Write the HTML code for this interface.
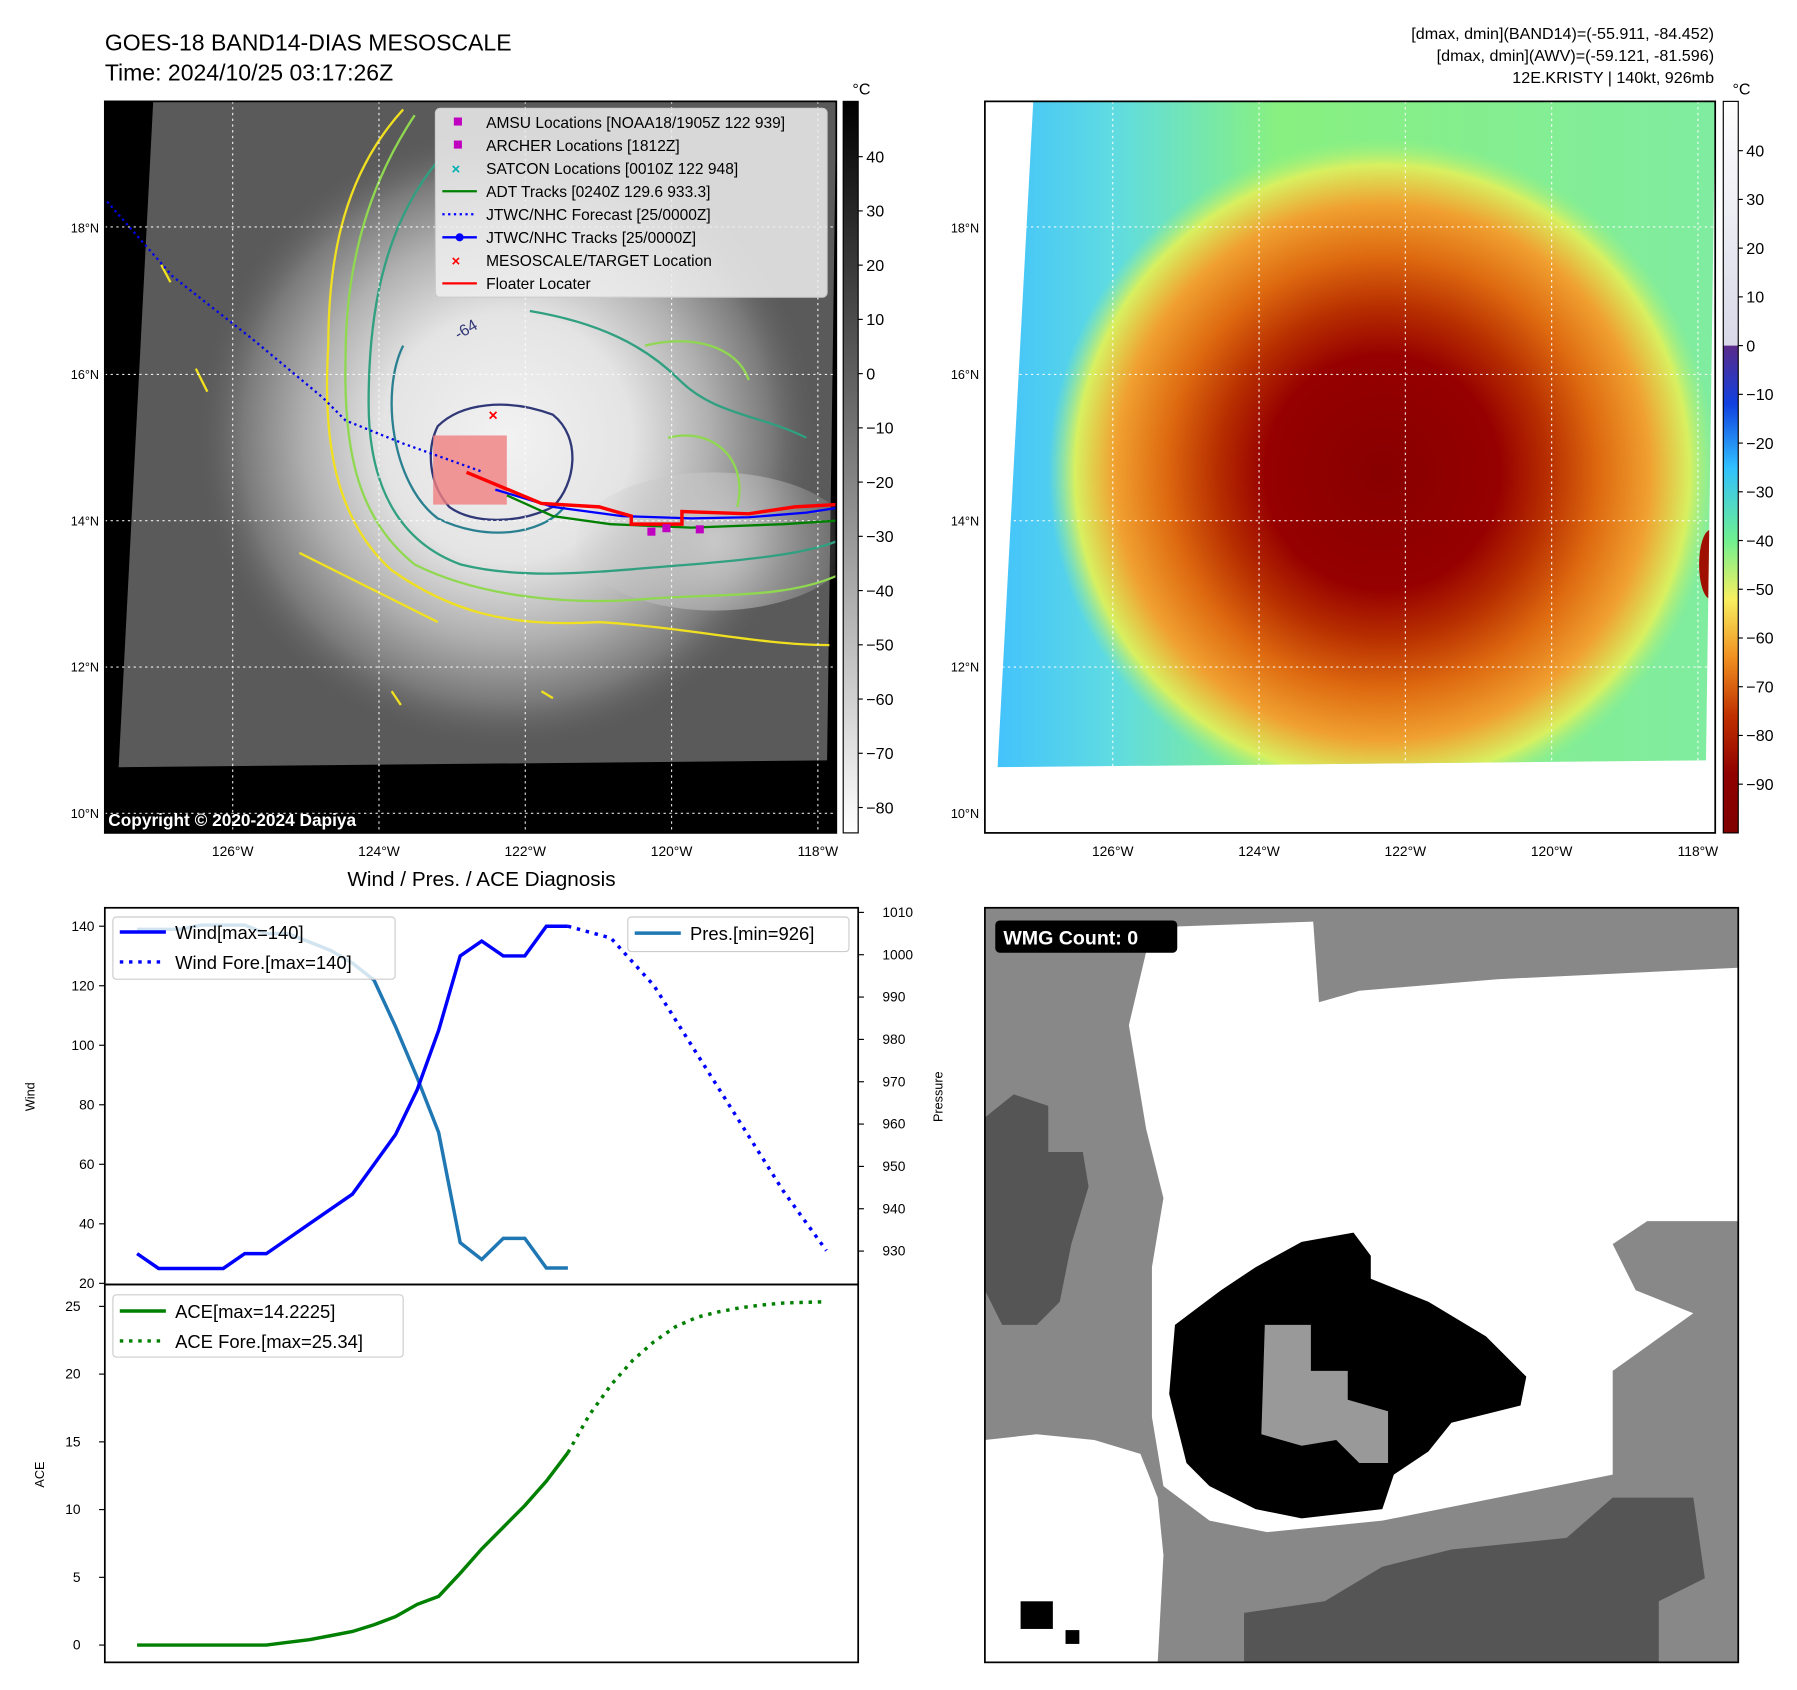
<!DOCTYPE html>
<html><head><meta charset="utf-8"><style>
html,body{margin:0;padding:0;background:#fff;}
svg{display:block;font-family:"Liberation Sans","DejaVu Sans",sans-serif;}
</style></head><body>
<svg id="root" width="1797" height="1690" viewBox="0 0 1560 1467" preserveAspectRatio="none" xmlns="http://www.w3.org/2000/svg">
<defs>
<radialGradient id="irBlob" cx="440" cy="380" r="270" gradientUnits="userSpaceOnUse">
<stop offset="0" stop-color="#f2f2f2"/><stop offset="0.4" stop-color="#e4e4e4"/><stop offset="0.65" stop-color="#b0b0b0"/><stop offset="0.85" stop-color="#7a7a7a"/><stop offset="1" stop-color="#5e5e5e" stop-opacity="0"/></radialGradient>
<radialGradient id="irBand" cx="620" cy="470" r="130" gradientUnits="userSpaceOnUse">
<stop offset="0" stop-color="#c8c8c8"/><stop offset="1" stop-color="#c8c8c8" stop-opacity="0"/></radialGradient>
<linearGradient id="colBase" x1="0" y1="0" x2="1" y2="0">
<stop offset="0" stop-color="#40c0ff"/><stop offset="0.18" stop-color="#60dce0"/><stop offset="0.4" stop-color="#88f080"/><stop offset="1" stop-color="#80eca0"/></linearGradient>
<radialGradient id="colBlob" cx="1200" cy="410" r="290" gradientUnits="userSpaceOnUse">
<stop offset="0" stop-color="#880000"/><stop offset="0.35" stop-color="#960000"/><stop offset="0.5" stop-color="#b83000"/><stop offset="0.65" stop-color="#de6a10"/><stop offset="0.8" stop-color="#f0a030"/><stop offset="0.92" stop-color="#d8f060"/><stop offset="1" stop-color="#a0f080" stop-opacity="0"/></radialGradient>
<linearGradient id="cbGray" x1="0" y1="0" x2="0" y2="1"><stop offset="0" stop-color="#000"/><stop offset="1" stop-color="#fff"/></linearGradient>
<linearGradient id="cbCol" x1="0" y1="0" x2="0" y2="1">
<stop offset="0" stop-color="#5a2a8a"/><stop offset="0.12" stop-color="#1040e0"/><stop offset="0.25" stop-color="#30c0ff"/><stop offset="0.4" stop-color="#70f090"/><stop offset="0.52" stop-color="#f8f060"/><stop offset="0.64" stop-color="#f09020"/><stop offset="0.76" stop-color="#c03000"/><stop offset="0.88" stop-color="#900000"/><stop offset="1" stop-color="#800000"/></linearGradient>
<linearGradient id="cbWhite" x1="0" y1="0" x2="0" y2="1"><stop offset="0" stop-color="#fff"/><stop offset="1" stop-color="#d8d8e8"/></linearGradient>
<clipPath id="clipL"><rect x="91" y="88" width="635" height="635"/></clipPath>
<clipPath id="clipR"><rect x="855" y="88" width="634" height="635"/></clipPath>
<clipPath id="clipW"><rect x="855" y="788" width="654" height="655"/></clipPath>
</defs>

<text x="91" y="44" font-size="20">GOES-18 BAND14-DIAS MESOSCALE</text>
<text x="91" y="70" font-size="20">Time: 2024/10/25 03:17:26Z</text>
<g font-size="14" text-anchor="end">
<text x="1488" y="34">[dmax, dmin](BAND14)=(-55.911, -84.452)</text>
<text x="1488" y="53">[dmax, dmin](AWV)=(-59.121, -81.596)</text>
<text x="1488" y="72">12E.KRISTY | 140kt, 926mb</text>
</g>

<g clip-path="url(#clipL)">
<rect x="91" y="88" width="635" height="635" fill="#000"/>
<polygon points="133,88 726,88 718,660 103,666" fill="#5a5a5a"/>
<polygon points="133,88 726,88 718,660 103,666" fill="url(#irBlob)"/>
<ellipse cx="620" cy="470" rx="120" ry="60" fill="url(#irBand)"/>
<g fill="none" stroke-width="2">
<path d="M350,95 C300,150 285,220 285,300 C280,380 290,450 340,495 C390,530 440,545 520,540 C600,545 660,560 720,560" stroke="#f0e020"/>
<path d="M360,100 C320,160 300,230 300,310 C298,390 310,450 360,490 C420,520 500,525 560,520 C620,515 680,520 726,500" stroke="#8fd850"/>
<path d="M380,140 C330,200 320,280 320,350 C320,420 345,470 400,490 C460,505 530,495 600,490 C660,485 700,480 726,470" stroke="#30a080"/>
<path d="M460,270 C520,280 560,300 590,330 C620,360 660,360 700,380" stroke="#30a080"/>
<path d="M350,300 C330,340 340,420 380,450 C420,470 470,465 490,440" stroke="#2a8090"/>
<path d="M380,370 C400,350 440,345 480,360 C505,380 500,420 480,440 C450,455 410,455 390,440 C372,420 370,390 380,370 Z" stroke="#303878"/>
<path d="M560,300 C600,290 640,300 650,330 M580,380 C620,370 650,400 640,440" stroke="#8fd850"/>
<path d="M170,320 l10,20 M140,230 l8,15 M260,480 C300,500 340,520 380,540 M340,600 l8,12 M470,600 l10,6" stroke="#f0e020"/>
</g>
<text x="398" y="295" font-size="14" fill="#333878" transform="rotate(-30 398 295)">-64</text>
<g stroke="#fff" stroke-width="1" stroke-dasharray="2,3" opacity="0.9">
<line x1="202" y1="88" x2="202" y2="723"/><line x1="329" y1="88" x2="329" y2="723"/><line x1="456" y1="88" x2="456" y2="723"/><line x1="583" y1="88" x2="583" y2="723"/><line x1="710" y1="88" x2="710" y2="723"/>
<line x1="91" y1="197" x2="726" y2="197"/><line x1="91" y1="325" x2="726" y2="325"/><line x1="91" y1="452" x2="726" y2="452"/><line x1="91" y1="579" x2="726" y2="579"/><line x1="91" y1="706" x2="726" y2="706"/>
</g>
<rect x="376" y="378" width="64" height="60" fill="#f08080" opacity="0.8"/>
<path d="M93,175 L150,240 L220,295 L280,345 L300,365 L350,385 L420,410" fill="none" stroke="#0000ee" stroke-width="2" stroke-dasharray="2,3"/>
<path d="M440,430 L480,448 L530,455 L600,458 L680,455 L726,452" fill="none" stroke="#008000" stroke-width="2"/>
<path d="M430,425 L480,440 L540,448 L600,450 L650,449 L700,445 L726,441" fill="none" stroke="#0000ff" stroke-width="2"/>
<path d="M405,410 L470,437 L520,440 L548,448 L548,455 L592,455 L592,444 L650,446 L690,440 L726,438" fill="none" stroke="#ff0000" stroke-width="3"/>
<text x="424" y="365" font-size="14" fill="#ff0000" font-weight="bold">×</text>
<g fill="#c000c0"><rect x="562" y="458" width="7" height="7"/><rect x="575" y="455" width="7" height="7"/><rect x="604" y="456" width="7" height="7"/></g>
<text x="94" y="717" font-size="15" font-weight="bold" fill="#fff">Copyright © 2020-2024 Dapiya</text>
</g>
<rect x="91" y="88" width="635" height="635" fill="none" stroke="#000" stroke-width="1.5"/>

<g>
<rect x="378" y="94" width="340" height="164" rx="4" fill="#eee" fill-opacity="0.85" stroke="#ccc"/>
<g font-size="13.5" fill="#000">
<rect x="394" y="102" width="7" height="7" fill="#c000c0"/><text x="422" y="111">AMSU Locations [NOAA18/1905Z 122 939]</text>
<rect x="394" y="122" width="7" height="7" fill="#c000c0"/><text x="422" y="131">ARCHER Locations [1812Z]</text>
<text x="392" y="151" fill="#00b0b0" font-weight="bold" font-size="13">×</text><text x="422" y="151">SATCON Locations [0010Z 122 948]</text>
<line x1="384" y1="166" x2="414" y2="166" stroke="#008000" stroke-width="2"/><text x="422" y="171">ADT Tracks [0240Z 129.6 933.3]</text>
<line x1="384" y1="186" x2="414" y2="186" stroke="#0000ff" stroke-width="2" stroke-dasharray="2,3"/><text x="422" y="191">JTWC/NHC Forecast [25/0000Z]</text>
<line x1="384" y1="206" x2="414" y2="206" stroke="#0000ff" stroke-width="2"/><circle cx="399" cy="206" r="3.5" fill="#0000ff"/><text x="422" y="211">JTWC/NHC Tracks [25/0000Z]</text>
<text x="392" y="231" fill="#ff0000" font-weight="bold" font-size="13">×</text><text x="422" y="231">MESOSCALE/TARGET Location</text>
<line x1="384" y1="246" x2="414" y2="246" stroke="#ff0000" stroke-width="2"/><text x="422" y="251">Floater Locater</text>
</g></g>

<g>
<rect x="732" y="88" width="13" height="635" fill="url(#cbGray)" stroke="#000"/>
<text x="740" y="82" font-size="14">°C</text>
<g font-size="14" id="cbL"></g>
</g>
<g id="latL" font-size="11" text-anchor="end"></g>
<g id="lonL" font-size="12" text-anchor="middle"></g>

<g clip-path="url(#clipR)">
<rect x="855" y="88" width="634" height="635" fill="#fff"/>
<clipPath id="clipData"><polygon points="897,88 1489,88 1481,660 866,666"/></clipPath>
<g clip-path="url(#clipData)">
<rect x="855" y="88" width="634" height="600" fill="url(#colBase)"/>
<ellipse cx="1200" cy="410" rx="300" ry="290" fill="url(#colBlob)"/>
<ellipse cx="1485" cy="490" rx="10" ry="30" fill="#a01000"/>
</g>
<g stroke="#fff" stroke-width="1" stroke-dasharray="2,3" opacity="0.9">
<line x1="966" y1="88" x2="966" y2="723"/><line x1="1093" y1="88" x2="1093" y2="723"/><line x1="1220" y1="88" x2="1220" y2="723"/><line x1="1347" y1="88" x2="1347" y2="723"/><line x1="1474" y1="88" x2="1474" y2="723"/>
<line x1="855" y1="197" x2="1489" y2="197"/><line x1="855" y1="325" x2="1489" y2="325"/><line x1="855" y1="452" x2="1489" y2="452"/><line x1="855" y1="579" x2="1489" y2="579"/><line x1="855" y1="706" x2="1489" y2="706"/>
</g></g>
<rect x="855" y="88" width="634" height="635" fill="none" stroke="#000" stroke-width="1.5"/>
<g>
<rect x="1496" y="88" width="13" height="212" fill="url(#cbWhite)"/>
<rect x="1496" y="300" width="13" height="423" fill="url(#cbCol)"/>
<rect x="1496" y="88" width="13" height="635" fill="none" stroke="#000"/>
<text x="1504" y="82" font-size="14">°C</text>
<g font-size="14" id="cbR"></g>
</g>
<g id="latR" font-size="11" text-anchor="end"></g>
<g id="lonR" font-size="12" text-anchor="middle"></g>

<text x="418" y="769" font-size="18" text-anchor="middle">Wind / Pres. / ACE Diagnosis</text>
<g id="chart"></g>
<rect x="91" y="788" width="654" height="327" fill="none" stroke="#000" stroke-width="1.5"/>
<rect x="91" y="1115" width="654" height="328" fill="none" stroke="#000" stroke-width="1.5"/>
<text x="30" y="952" font-size="11" transform="rotate(-90 30 952)" text-anchor="middle">Wind</text>
<text x="818" y="952" font-size="11" transform="rotate(-90 818 952)" text-anchor="middle">Pressure</text>
<text x="38" y="1280" font-size="11" transform="rotate(-90 38 1280)" text-anchor="middle">ACE</text>

<g>
<rect x="98" y="796" width="245" height="54" rx="3" fill="#fff" fill-opacity="0.8" stroke="#ccc"/>
<line x1="104" y1="809" x2="144" y2="809" stroke="#0000ff" stroke-width="3"/><text x="152" y="815" font-size="16">Wind[max=140]</text>
<line x1="104" y1="835" x2="144" y2="835" stroke="#0000ff" stroke-width="3" stroke-dasharray="3,5"/><text x="152" y="841" font-size="16">Wind Fore.[max=140]</text>
</g>
<g>
<rect x="545" y="796" width="192" height="30" rx="3" fill="#fff" fill-opacity="0.8" stroke="#ccc"/>
<line x1="551" y1="810" x2="591" y2="810" stroke="#1f77b4" stroke-width="3"/><text x="599" y="816" font-size="16">Pres.[min=926]</text>
</g>
<g>
<rect x="98" y="1124" width="252" height="54" rx="3" fill="#fff" fill-opacity="0.8" stroke="#ccc"/>
<line x1="104" y1="1138" x2="144" y2="1138" stroke="#008000" stroke-width="3"/><text x="152" y="1144" font-size="16">ACE[max=14.2225]</text>
<line x1="104" y1="1164" x2="144" y2="1164" stroke="#008000" stroke-width="3" stroke-dasharray="3,5"/><text x="152" y="1170" font-size="16">ACE Fore.[max=25.34]</text>
</g>

<g clip-path="url(#clipW)">
<rect x="855" y="788" width="654" height="655" fill="#888"/>
<polygon fill="#fff" points="980,890 1000,805 1140,800 1145,870 1180,860 1300,850 1509,840 1509,1060 1430,1060 1400,1080 1420,1120 1470,1140 1400,1190 1400,1280 1300,1300 1200,1320 1100,1330 1050,1320 1010,1290 1000,1230 1000,1100 1010,1040 995,980"/>
<polygon fill="#fff" points="855,1250 900,1245 950,1250 990,1262 1005,1300 1010,1350 1005,1443 855,1443"/>
<polygon fill="#555" points="855,970 880,950 910,960 910,1000 940,1000 945,1030 930,1080 920,1130 900,1150 870,1150 855,1120"/>
<polygon fill="#555" points="1080,1443 1080,1400 1150,1390 1200,1360 1260,1345 1360,1335 1400,1300 1470,1300 1480,1370 1440,1390 1440,1443"/>
<polygon fill="#000" points="1020,1150 1040,1135 1060,1120 1090,1100 1130,1078 1175,1070 1190,1090 1190,1110 1240,1130 1290,1160 1325,1195 1320,1220 1260,1235 1240,1260 1210,1280 1200,1310 1130,1318 1090,1310 1050,1290 1030,1270 1015,1210"/>
<polygon fill="#999" points="1098,1150 1138,1150 1138,1190 1170,1190 1170,1215 1205,1225 1205,1270 1180,1270 1160,1250 1130,1255 1095,1245"/>
<rect x="886" y="1390" width="28" height="24" fill="#000"/><rect x="925" y="1415" width="12" height="12" fill="#000"/>
</g>
<rect x="855" y="788" width="654" height="655" fill="none" stroke="#000" stroke-width="1.5"/>
<rect x="864" y="799" width="158" height="28" rx="4" fill="#000"/>
<text x="871" y="820" font-size="17" font-weight="bold" fill="#fff">WMG Count: 0</text>
</svg>
<script>
const windObsX = [0,1,2,3,4,5,6,7,8,9,10,11,12,13,14,15,16,17,18,19,20];
const windObs = [30,25,25,25,25,30,30,35,40,45,50,60,70,85,105,130,135,130,130,140,140];
const windForeX = [20,22,24,26,28,30,32];
const windFore = [140,136,120,97,74,51,31];
const presObs = [1006,1006,1006,1007,1007,1007,1005,1005,1003,1001,998,994,983,971,958,932,928,933,933,926,926];
const aceObs = [0,0,0,0,0,0,0,0.2,0.4,0.7,1.0,1.5,2.1,3.0,3.6,5.3,7.1,8.7,10.3,12.1,14.2];
const aceForeX = [20,21,22,23,24,25,26,27,28,29,30,31,32];
const aceFore = [14.2,17.0,19.2,21.0,22.4,23.5,24.2,24.6,24.9,25.1,25.25,25.3,25.34];
const windTicks = [20,40,60,80,100,120,140];
const presTicks = [930,940,950,960,970,980,990,1000,1010];
const aceTicks = [0,5,10,15,20,25];
const cbLTicks = [40,30,20,10,0,-10,-20,-30,-40,-50,-60,-70,-80];
const cbRTicks = [40,30,20,10,0,-10,-20,-30,-40,-50,-60,-70,-80,-90];
const latTicks = [18,16,14,12,10];
const lonTicks = [126,124,122,120,118];

const NS='http://www.w3.org/2000/svg';
function mk(tag,attrs,parent,txt){const e=document.createElementNS(NS,tag);for(const k in attrs)e.setAttribute(k,attrs[k]);if(txt!==undefined)e.textContent=txt;parent.appendChild(e);return e;}
const xS=i=>119+i*18.7;
const yW=v=>1114-(v-20)/120*310;
const yP=v=>1086-(v-930)/80*294;
const yA=v=>1428-v/25*294;
const latY=l=>706-(l-10)*63.5;
const lonXL=l=>710-(l-118)*63.5;
const lonXR=l=>1474-(l-118)*63.5;
const cbLY=v=>136+(40-v)*4.708;
const cbRY=v=>300-v*4.23;

const chart=document.getElementById('chart');
function line(xs,vs,yf,color,dash,name){
  const d=xs.map((x,i)=>(i?'L':'M')+xS(x).toFixed(1)+','+yf(vs[i]).toFixed(1)).join(' ');
  const p=mk('path',{d:d,fill:'none',stroke:color,'stroke-width':3},chart);
  if(dash)p.setAttribute('stroke-dasharray',dash);
  
  
}
line(windObsX,presObs,yP,'#1f77b4',null,'pressure-line');
line(windObsX,windObs,yW,'#0000ff',null,'wind-line');
line(windForeX,windFore,yW,'#0000ff','3,5','wind-forecast-line');
line(windObsX,aceObs,yA,'#008000',null,'ace-line');
line(aceForeX,aceFore,yA,'#008000','3,5','ace-forecast-line');
windTicks.forEach(v=>{mk('line',{x1:86,x2:91,y1:yW(v),y2:yW(v),stroke:'#000'},chart);const t=mk('text',{x:82,y:yW(v)+4,'font-size':12,'text-anchor':'end'},chart,v);});
presTicks.forEach(v=>{mk('line',{x1:745,x2:750,y1:yP(v),y2:yP(v),stroke:'#000'},chart);const t=mk('text',{x:766,y:yP(v)+4,'font-size':12},chart,v);});
aceTicks.forEach(v=>{mk('line',{x1:86,x2:91,y1:yA(v),y2:yA(v),stroke:'#000'},chart);const t=mk('text',{x:70,y:yA(v)+4,'font-size':12,'text-anchor':'end'},chart,v);});

const cbL=document.getElementById('cbL');
cbLTicks.forEach(v=>{mk('line',{x1:745,x2:749,y1:cbLY(v),y2:cbLY(v),stroke:'#000'},cbL);const t=mk('text',{x:752,y:cbLY(v)+5},cbL,v<0?'\u2212'+(-v):v);});
const cbR=document.getElementById('cbR');
cbRTicks.forEach(v=>{mk('line',{x1:1509,x2:1513,y1:cbRY(v),y2:cbRY(v),stroke:'#000'},cbR);const t=mk('text',{x:1516,y:cbRY(v)+5},cbR,v<0?'\u2212'+(-v):v);});
[['latL',86],['latR',850]].forEach(([id,x])=>{const g=document.getElementById(id);latTicks.forEach(l=>{const t=mk('text',{x:x,y:latY(l)+4},g,l+'°N');});});
[['lonL',lonXL],['lonR',lonXR]].forEach(([id,f])=>{const g=document.getElementById(id);lonTicks.forEach(l=>{const t=mk('text',{x:f(l),y:743},g,l+'°W');});});
</script>
</body></html>
